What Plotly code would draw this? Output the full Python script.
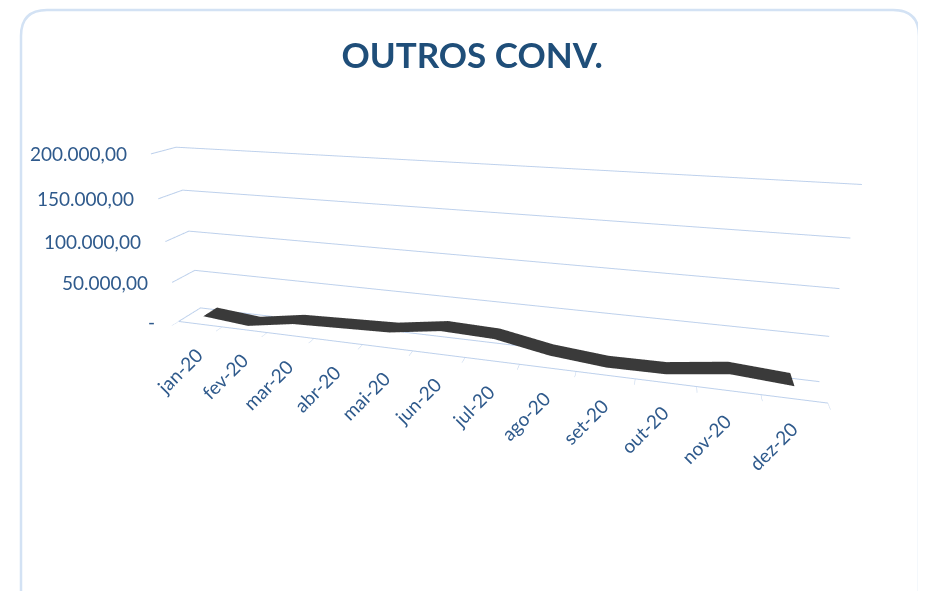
import plotly.graph_objects as go

# ---- data ----
months = ["jan-20", "fev-20", "mar-20", "abr-20", "mai-20", "jun-20",
          "jul-20", "ago-20", "set-20", "out-20", "nov-20", "dez-20"]
values = [7000, 1500, 11000, 13000, 15000, 24000,
          22000, 10500, 4700, 5400, 14000, 9500]
z_ticks = [0, 50000, 100000, 150000, 200000]
z_ticktext = ["-", "50.000,00", "100.000,00", "150.000,00", "200.000,00"]
title = "OUTROS CONV."

# page body has an 8px margin -> figure is 910 x 583, drawn at (8, 8)
W, H = 910, 583
GRID = "#bdd0ec"
LABEL = "#2f5a8c"
TITLE = "#1f4e79"
FONT = "Lato"

xs = list(range(len(months)))
depth = [0.18, 0.82]

fig = go.Figure()
# ribbon (3D line) as a thin surface strip
fig.add_trace(go.Surface(
    x=xs, y=depth, z=[values, values],
    colorscale=[[0, "#3a3a3a"], [1, "#3a3a3a"]],
    showscale=False, hoverinfo="skip",
    lighting=dict(ambient=1.0, diffuse=0.0, specular=0.0, roughness=1, fresnel=0),
    contours=dict(x=dict(highlight=False), y=dict(highlight=False), z=dict(highlight=False)),
))

ann = []
for i, m in enumerate(months):
    ann.append(dict(x=i, y=0, z=0, text=m, showarrow=False, textangle=-45,
                    xanchor="right", yanchor="top", xshift=10, yshift=-16,
                    font=dict(family=FONT, size=19, color=LABEL)))
for v, t in zip(z_ticks, z_ticktext):
    ann.append(dict(x=-0.5, y=0, z=v, text=t, showarrow=False,
                    xanchor="right", yanchor="middle", xshift=-22,
                    font=dict(family=FONT, size=19, color=LABEL)))

axis_common = dict(showbackground=False, showspikes=False, title=dict(text=""),
                   zeroline=False)
fig.update_layout(
    width=W, height=H,
    margin=dict(l=0, r=0, t=0, b=0),
    paper_bgcolor="white",
    showlegend=False,
    title=dict(text="<b>" + title + "</b>", x=0.51, xanchor="center",
               y=1 - 48 / H, yanchor="middle",
               font=dict(family=FONT, size=35, color=TITLE)),
    scene=dict(
        domain=dict(x=[0, 1], y=[0, 1]),
        xaxis=dict(range=[-0.5, len(months) - 0.5],
                   tickvals=[i - 0.5 for i in range(len(months) + 1)],
                   showticklabels=False, showgrid=False, showline=True,
                   linecolor=GRID, linewidth=2, ticks="outside", tickcolor=GRID,
                   ticklen=8, **axis_common),
        yaxis=dict(range=[0, 1], showticklabels=False, showgrid=False,
                   showline=False, ticks="", **axis_common),
        zaxis=dict(range=[0, 200001], tickvals=z_ticks, showticklabels=False,
                   showgrid=True, gridcolor=GRID, gridwidth=2, showline=False,
                   ticks="", **axis_common),
        aspectmode="manual",
        aspectratio=dict(x=2.78, y=0.17, z=0.78),
        camera=dict(eye=dict(x=0.70, y=-2.63, z=0.94),
                    center=dict(x=-0.033, y=0, z=-0.165),
                    up=dict(x=0, y=0, z=1), projection=dict(type="perspective")),
        annotations=ann,
    ),
)

# rounded frame (reference pixels minus the 8px page offset)
x0, x1 = 13 / W, 911 / W
yt, yb = 1 - 2 / H, -0.05
rx, ry = 26 / W, 26 / H
path = (f"M {x0},{yb} L {x0},{yt - ry} Q {x0},{yt} {x0 + rx},{yt} "
        f"L {x1 - rx},{yt} Q {x1},{yt} {x1},{yt - ry} L {x1},{yb}")
fig.add_shape(type="path", path=path, xref="paper", yref="paper",
              line=dict(color="#d3e2f4", width=2.5))

fig.write_html("out.html")
